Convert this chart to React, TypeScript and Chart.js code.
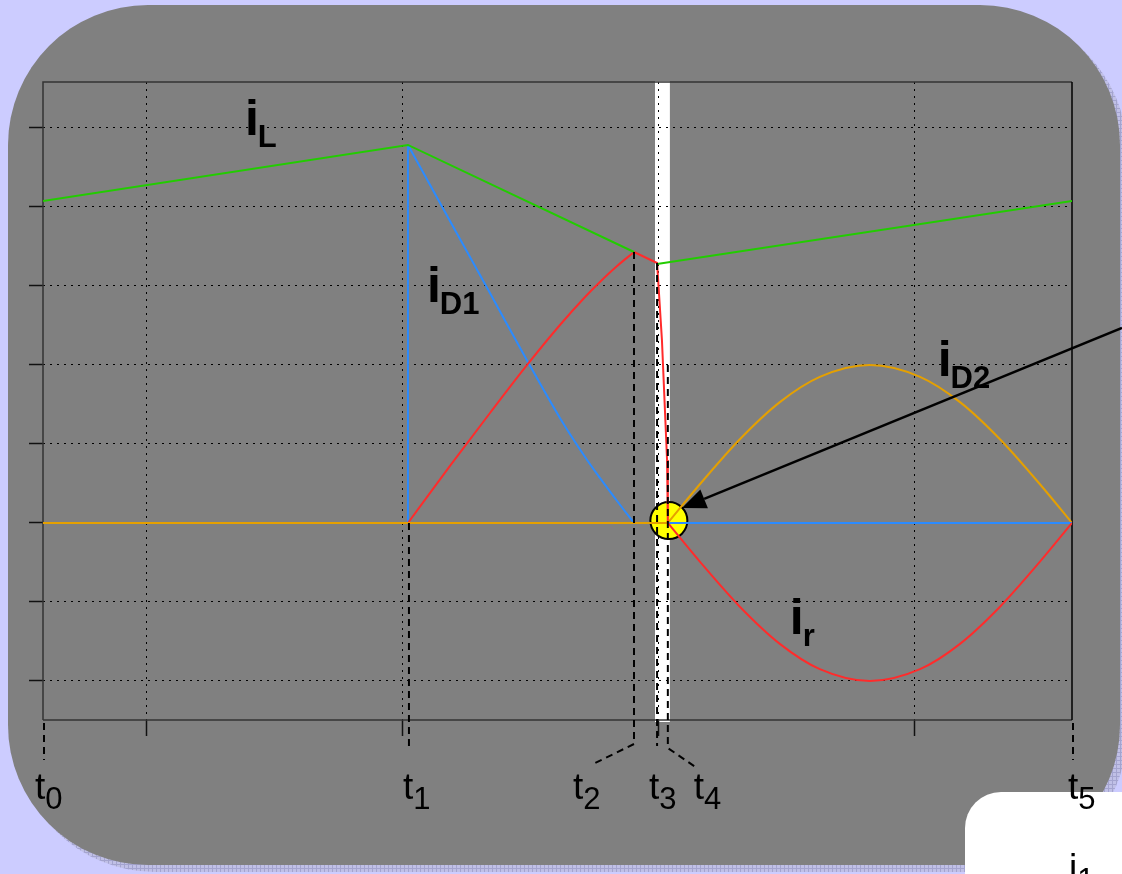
import React, { useEffect, useRef } from 'react';
import { Chart, registerables } from 'chart.js';

Chart.register(...registerables);

const W = 1122;
const H = 874;

// axis ranges (time in grid units, current in grid units)
const X_MIN = 0.598;
const X_MAX = 4.613;
const Y_MIN = -2.494;
const Y_MAX = 5.582;
const xGridTicks = [1, 2, 3, 4];
const yGridTicks = [-2, -1, 0, 1, 2, 3, 4, 5];

// switching instants t0..t5
const tMarks = [0.598, 2.022, 2.904, 2.994, 3.036, 4.613];
const tSubs = ['0', '1', '2', '3', '4', '5'];
const whiteBar = [2.986, 3.044];

// iL (green)
const iL1X = [0.598, 2.022, 2.904];
const iL1Y = [4.076, 4.785, 3.43];
const iL2X = [2.994, 4.613];
const iL2Y = [3.278, 4.076];

// iD1 (blue)
const iD1StepX = [2.022, 2.022];
const iD1StepY = [0, 4.785];
const iD1FallX = [2.022, 2.186, 2.342, 2.49, 2.615, 2.713, 2.771, 2.838, 2.904];
const iD1FallY = [4.785, 3.823, 2.911, 2.038, 1.329, 0.835, 0.57, 0.278, 0];
const iD1ZeroX = [2.904, 4.613];
const iD1ZeroY = [0, 0];

// ir (red)
const irRiseX = [2.022, 2.186, 2.342, 2.49, 2.615, 2.713, 2.771, 2.838, 2.904];
const irRiseY = [0, 0.722, 1.392, 2.013, 2.506, 2.861, 3.051, 3.253, 3.43];
const irDropX = [2.904, 2.994, 3.013, 3.033, 3.036];
const irDropY = [3.43, 3.291, 2.316, 0.797, 0];
const arcX = [3.036, 3.161, 3.317, 3.473, 3.629, 3.824, 4.02, 4.176, 4.332, 4.488, 4.613];
const irArcY = [0, -0.49, -1.06, -1.53, -1.85, -2.0, -1.85, -1.53, -1.06, -0.49, 0];

// iD2 (orange)
const iD2ZeroX = [0.598, 3.036];
const iD2ZeroY = [0, 0];
const iD2ArcY = [0, 0.49, 1.06, 1.53, 1.85, 2.0, 1.85, 1.53, 1.06, 0.49, 0];

const curveLabels = [
  { main: 'i', sub: 'L', x: 1.386, y: 4.911 },
  { main: 'i', sub: 'D1', x: 2.096, y: 2.797 },
  { main: 'i', sub: 'D2', x: 4.089, y: 1.861 },
  { main: 'i', sub: 'r', x: 3.512, y: -1.405 },
];

const GREEN = '#22CC00';
const BLUE = '#2B8BFF';
const RED = '#FF2B2B';
const ORANGE = '#E5A000';

const FONT = '"Liberation Sans", Arial, sans-serif';

function pts(xs: number[], ys: number[]) {
  return xs.map((x, i) => ({ x, y: ys[i] }));
}

function ds(xs: number[], ys: number[], color: string, smooth: boolean) {
  return {
    data: pts(xs, ys),
    borderColor: color,
    backgroundColor: color,
    borderWidth: 2,
    pointRadius: 0,
    fill: false,
    tension: 0,
    cubicInterpolationMode: smooth ? 'monotone' : 'default',
  } as any;
}

function rrect(ctx: CanvasRenderingContext2D, x: number, y: number, w: number, h: number, r: number) {
  ctx.beginPath();
  ctx.moveTo(x + r, y);
  ctx.lineTo(x + w - r, y);
  ctx.arcTo(x + w, y, x + w, y + r, r);
  ctx.lineTo(x + w, y + h - r);
  ctx.arcTo(x + w, y + h, x + w - r, y + h, r);
  ctx.lineTo(x + r, y + h);
  ctx.arcTo(x, y + h, x, y + h - r, r);
  ctx.lineTo(x, y + r);
  ctx.arcTo(x, y, x + r, y, r);
  ctx.closePath();
}

function hatch(ctx: CanvasRenderingContext2D) {
  const c = document.createElement('canvas');
  c.width = 4;
  c.height = 4;
  const g = c.getContext('2d')!;
  g.fillStyle = '#c0c0e6';
  g.fillRect(0, 0, 4, 4);
  g.fillStyle = '#a4a4cf';
  g.fillRect(0, 0, 4, 1);
  g.fillRect(0, 0, 1, 4);
  return ctx.createPattern(c, 'repeat')!;
}

const decor = {
  id: 'decor',
  beforeDraw(chart: any) {
    const ctx: CanvasRenderingContext2D = chart.ctx;
    const sx = chart.scales.x;
    const a = chart.chartArea;
    ctx.save();
    ctx.fillStyle = '#CCCCFF';
    ctx.fillRect(0, 0, W, H);
    rrect(ctx, 15, 12, 1112, 860, 140);
    ctx.fillStyle = hatch(ctx);
    ctx.fill();
    rrect(ctx, 8, 5, 1112, 860, 140);
    ctx.fillStyle = '#808080';
    ctx.fill();
    rrect(ctx, 965, 792, 320, 200, 36);
    ctx.fillStyle = '#FFFFFF';
    ctx.fill();
    const b0 = sx.getPixelForValue(whiteBar[0]);
    const b1 = sx.getPixelForValue(whiteBar[1]);
    ctx.fillRect(b0, a.top - 1, b1 - b0, a.bottom - a.top + 3);
    ctx.restore();
  },
  beforeDatasetsDraw(chart: any) {
    const ctx: CanvasRenderingContext2D = chart.ctx;
    const a = chart.chartArea;
    const sx = chart.scales.x;
    const sy = chart.scales.y;
    ctx.save();
    ctx.lineWidth = 1.5;
    ctx.strokeStyle = '#333333';
    ctx.beginPath();
    ctx.moveTo(a.left, a.bottom);
    ctx.lineTo(a.left, a.top);
    ctx.lineTo(a.right, a.top);
    ctx.moveTo(a.left, a.bottom);
    ctx.lineTo(a.right, a.bottom);
    ctx.stroke();
    ctx.strokeStyle = '#000000';
    ctx.beginPath();
    ctx.moveTo(a.right, a.top);
    ctx.lineTo(a.right, a.bottom);
    ctx.stroke();
    // highlight circle at t4
    ctx.beginPath();
    ctx.arc(sx.getPixelForValue(3.04), sy.getPixelForValue(0.03), 18.5, 0, Math.PI * 2);
    ctx.fillStyle = '#FFFF00';
    ctx.fill();
    ctx.lineWidth = 2;
    ctx.strokeStyle = '#000000';
    ctx.stroke();
    ctx.restore();
  },
  afterDatasetsDraw(chart: any) {
    const ctx: CanvasRenderingContext2D = chart.ctx;
    const a = chart.chartArea;
    const sx = chart.scales.x;
    const sy = chart.scales.y;
    const px = (v: number) => sx.getPixelForValue(v);
    const py = (v: number) => sy.getPixelForValue(v);
    ctx.save();
    ctx.strokeStyle = '#000000';
    ctx.lineWidth = 2;
    ctx.setLineDash([7, 5]);
    const dash = (path: number[][]) => {
      ctx.beginPath();
      ctx.moveTo(path[0][0], path[0][1]);
      for (let i = 1; i < path.length; i++) ctx.lineTo(path[i][0], path[i][1]);
      ctx.stroke();
    };
    const B = a.bottom;
    dash([[px(tMarks[0]) + 1, B + 3], [px(tMarks[0]) + 1, B + 40]]);
    dash([[px(tMarks[1]) + 1, py(0)], [px(tMarks[1]) + 1, B + 27]]);
    dash([[px(tMarks[2]), py(3.43)], [px(tMarks[2]), B + 24], [px(tMarks[2]) - 41, B + 44]]);
    dash([[px(tMarks[3]), py(3.291)], [px(tMarks[3]), B + 26]]);
    dash([[px(tMarks[4]), py(2.0)], [px(tMarks[4]), B + 28], [px(tMarks[4]) + 29, B + 48]]);
    dash([[px(tMarks[5]) + 1, B + 3], [px(tMarks[5]) + 1, B + 40]]);
    ctx.setLineDash([]);

    // arrow
    const x1 = px(4.808), y1 = py(2.468);
    const x2 = px(3.091), y2 = py(0.19);
    const ang = Math.atan2(y2 - y1, x2 - x1);
    const hl = 24, hw = 10;
    ctx.lineWidth = 2.5;
    ctx.beginPath();
    ctx.moveTo(x1, y1);
    ctx.lineTo(x2 - hl * Math.cos(ang), y2 - hl * Math.sin(ang));
    ctx.stroke();
    ctx.beginPath();
    ctx.moveTo(x2, y2);
    ctx.lineTo(x2 - hl * Math.cos(ang) + hw * Math.sin(ang), y2 - hl * Math.sin(ang) - hw * Math.cos(ang));
    ctx.lineTo(x2 - hl * Math.cos(ang) - hw * Math.sin(ang), y2 - hl * Math.sin(ang) + hw * Math.cos(ang));
    ctx.closePath();
    ctx.fillStyle = '#000000';
    ctx.fill();

    // curve labels
    ctx.fillStyle = '#000000';
    ctx.textBaseline = 'alphabetic';
    ctx.textAlign = 'left';
    for (const l of curveLabels) {
      const lx = px(l.x), ly = py(l.y);
      ctx.font = 'bold 50px ' + FONT;
      ctx.fillText(l.main, lx, ly);
      const w = ctx.measureText(l.main).width;
      ctx.font = 'bold 31px ' + FONT;
      ctx.fillText(l.sub, lx + w - 1, ly + 12);
    }

    // time labels
    const tOff = [-8, -5, -61, -8, 26, -4];
    for (let i = 0; i < tMarks.length; i++) {
      const lx = px(tMarks[i]) + tOff[i];
      const ly = B + 79;
      ctx.font = '37px ' + FONT;
      ctx.fillText('t', lx, ly);
      const w = ctx.measureText('t').width;
      ctx.font = '31px ' + FONT;
      ctx.fillText(tSubs[i], lx + w, ly + 10);
    }

    // partially visible label in the lower-right box
    ctx.font = '37px ' + FONT;
    ctx.fillText('i', 1069, 880);
    const wi = ctx.measureText('i').width;
    ctx.font = '31px ' + FONT;
    ctx.fillText('1', 1069 + wi, 890);
    ctx.restore();
  },
};

export default function App() {
  const ref = useRef<HTMLCanvasElement | null>(null);
  useEffect(() => {
    if (!ref.current) return;
    const chart = new Chart(ref.current, {
      type: 'line',
      data: {
        datasets: [
          ds(iL1X, iL1Y, GREEN, false),
          ds(iL2X, iL2Y, GREEN, false),
          ds(iD2ZeroX, iD2ZeroY, ORANGE, false),
          ds(irRiseX, irRiseY, RED, true),
          ds(irDropX, irDropY, RED, false),
          ds(arcX, irArcY, RED, true),
          ds(iD1StepX, iD1StepY, BLUE, false),
          ds(iD1FallX, iD1FallY, BLUE, true),
          ds(iD1ZeroX, iD1ZeroY, BLUE, false),
          ds(arcX, iD2ArcY, ORANGE, true),
        ],
      },
      options: {
        animation: false,
        responsive: false,
        maintainAspectRatio: false,
        devicePixelRatio: 1,
        layout: { padding: { left: 29, right: 50, top: 82, bottom: 138 } },
        plugins: { legend: { display: false }, tooltip: { enabled: false } },
        events: [],
        scales: {
          x: {
            type: 'linear',
            min: X_MIN,
            max: X_MAX,
            afterBuildTicks: (s: any) => {
              s.ticks = xGridTicks.map((v) => ({ value: v }));
            },
            ticks: { display: false },
            grid: {
              color: '#000000',
              lineWidth: 1,
              drawTicks: true,
              tickLength: 16,
              tickColor: '#111111',
              tickWidth: 1.5,
              tickBorderDash: [],
            },
            border: { display: false, dash: [2, 5] },
          },
          y: {
            type: 'linear',
            min: Y_MIN,
            max: Y_MAX,
            afterBuildTicks: (s: any) => {
              s.ticks = yGridTicks.map((v) => ({ value: v }));
            },
            ticks: { display: false },
            grid: {
              color: '#000000',
              lineWidth: 1,
              drawTicks: true,
              tickLength: 14,
              tickColor: '#111111',
              tickWidth: 1.5,
              tickBorderDash: [],
            },
            border: { display: false, dash: [2, 5] },
          },
        },
      },
      plugins: [decor],
    } as any);
    return () => chart.destroy();
  }, []);
  return (
    <div style={{ position: 'fixed', left: 0, top: 0, width: W, height: H }}>
      <canvas ref={ref} width={W} height={H} style={{ display: 'block', width: W, height: H }} />
    </div>
  );
}
